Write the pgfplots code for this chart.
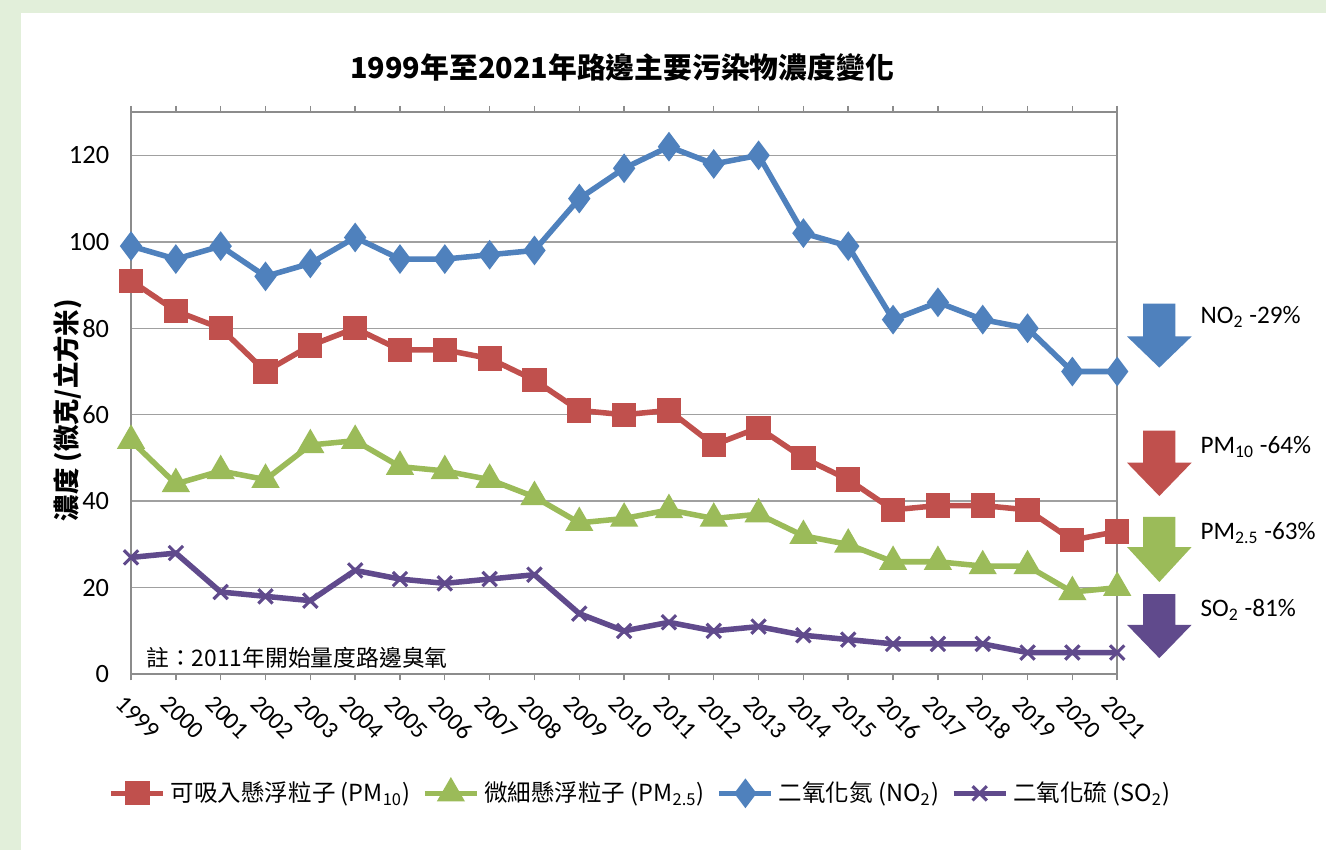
\documentclass[border=0pt]{standalone}
\usepackage{fontspec}
\setmainfont{Carlito}
\newfontfamily\cjk{Noto Sans CJK TC}
\usepackage{pgfplots}
\pgfplotsset{compat=1.18}
\usepackage{pgfplotstable}

\definecolor{cPM}{HTML}{C0504D}
\definecolor{cFine}{HTML}{9BBB59}
\definecolor{cNO}{HTML}{4F81BD}
\definecolor{cSO}{HTML}{604A8C}
\definecolor{bggreen}{HTML}{E2EFDA}
\definecolor{gridgray}{HTML}{A0A0A0}
\definecolor{axgray}{HTML}{8C8C8C}

% roadside pollutant concentrations, micrograms per cubic metre
\pgfplotstableread{
year pm10 pm25 no2 so2
1999 91 54 99 27
2000 84 44 96 28
2001 80 47 99 19
2002 70 45 92 18
2003 76 53 95 17
2004 80 54 101 24
2005 75 48 96 22
2006 75 47 96 21
2007 73 45 97 22
2008 68 41 98 23
2009 61 35 110 14
2010 60 36 117 10
2011 61 38 122 12
2012 53 36 118 10
2013 57 37 120 11
2014 50 32 102 9
2015 45 30 99 8
2016 38 26 82 7
2017 39 26 86 7
2018 39 25 82 7
2019 38 25 80 5
2020 31 19 70 5
2021 33 20 70 5
}\airdata

\newcommand\blockarrow[4]{%
  \fill[#1] (axis cs:2021.58,#2) -- (axis cs:2022.30,#2) -- (axis cs:2022.30,#3)
    -- (axis cs:2022.66,#3) -- (axis cs:2021.94,#4) -- (axis cs:2021.22,#3)
    -- (axis cs:2021.58,#3) -- cycle;}

\begin{document}
\begin{tikzpicture}
\path[use as bounding box, fill=bggreen] (0,0) rectangle (552.5pt,354.2pt);
\fill[white] (8.75pt,0) rectangle (552.5pt,348.8pt);

\node[font=\cjk\bfseries\fontsize{12}{14}\selectfont] at (259.2pt,325.9pt)
  {1999年至2021年路邊主要污染物濃度變化};
\node[rotate=90, font=\cjk\bfseries\fontsize{11}{13}\selectfont] at (28pt,183.3pt)
  {濃度 (微克/立方米)};

\begin{axis}[
  at={(54.6pt,73.3pt)}, anchor=south west,
  scale only axis, width=410.9pt, height=234.2pt,
  xmin=1999, xmax=2021, ymin=0, ymax=130,
  xtick={1999,...,2021}, ytick={0,20,...,120},
  ymajorgrids, grid style={gridgray, line width=0.6pt},
  axis line style={axgray, line width=0.6pt},
  tick align=outside, major tick length=2.6pt,
  xtick style={axgray, line width=0.6pt}, ytick style={draw=none},
  ticklabel style={font=\fontsize{11}{13}\selectfont},
  /pgf/number format/assume math mode=true,
  /pgf/number format/1000 sep={},
  xticklabel style={rotate=-45, anchor=north west, xshift=-1pt, yshift=-2pt,
    font=\fontsize{10.2}{12}\selectfont},
  yticklabel style={xshift=-3pt},
  clip=false,
  legend style={at={(0.518,-0.212)}, anchor=center, draw=none, fill=none,
    legend columns=4, font=\cjk\fontsize{9.8}{12}\selectfont,
    /tikz/every even column/.append style={column sep=3pt}},
  legend cell align=left,
  legend image code/.code={\draw[mark repeat=2,mark phase=2,#1]
    plot coordinates {(0cm,0cm) (0.38cm,0cm) (0.76cm,0cm)};},
]
\addplot[cPM, line width=2.3pt, mark=square*, mark size=3.9pt, mark options={solid}]
  table[x=year, y=pm10] {\airdata};
\addplot[cFine, line width=2.3pt, mark=triangle*, mark size=4.5pt, mark options={solid}]
  table[x=year, y=pm25] {\airdata};
\addplot[cNO, line width=2.3pt, mark=diamond*, mark size=4.3pt, mark options={solid}]
  table[x=year, y=no2] {\airdata};
\addplot[cSO, line width=2.3pt, mark=x, mark size=4.2pt, mark options={solid, line width=1.3pt}]
  table[x=year, y=so2] {\airdata};
\legend{可吸入懸浮粒子 (PM\textsubscript{10}), 微細懸浮粒子 (PM\textsubscript{2.5}),
  二氧化氮 (NO\textsubscript{2}), 二氧化硫 (SO\textsubscript{2})}

\node[anchor=west, font=\cjk\fontsize{9.5}{11}\selectfont] at (axis cs:1999.15,3.9)
  {註：2011年開始量度路邊臭氧};

\blockarrow{cNO}{85.7}{78.1}{70.9}
\blockarrow{cPM}{56.3}{48.9}{41.2}
\blockarrow{cFine}{36.4}{29.4}{21.3}
\blockarrow{cSO}{18.5}{11.4}{3.7}
\begin{scope}[every node/.style={anchor=west, inner sep=0pt, font=\fontsize{10.5}{12}\selectfont}]
\node at (axis cs:2022.85,82.7) {NO\textsubscript{2} -29\%};
\node at (axis cs:2022.85,52.6) {PM\textsubscript{10} -64\%};
\node at (axis cs:2022.85,32.7) {PM\textsubscript{2.5} -63\%};
\node at (axis cs:2022.85,14.8) {SO\textsubscript{2} -81\%};
\end{scope}
\end{axis}
\end{tikzpicture}
\end{document}
